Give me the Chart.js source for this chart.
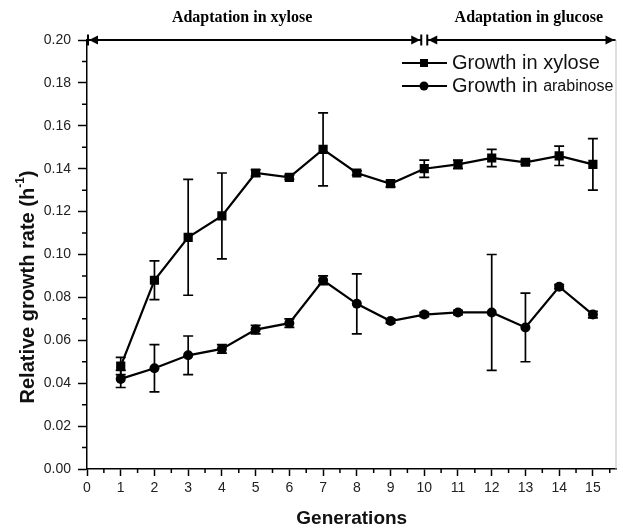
<!DOCTYPE html>
<html>
<head>
<meta charset="utf-8">
<script src="https://cdn.jsdelivr.net/npm/chart.js@4.4.1/dist/chart.umd.min.js"></script>
<style>
  html, body { margin: 0; padding: 0; background: #fff; }
  #wrap { width: 623px; height: 530px; }
</style>
</head>
<body>
<div id="wrap"><canvas id="growthChart" width="623" height="530"></canvas></div>
<script>
// values
const generations = [1, 2, 3, 4, 5, 6, 7, 8, 9, 10, 11, 12, 13, 14, 15];
const xyloseRate = [0.048, 0.088, 0.108, 0.118, 0.138, 0.136, 0.149, 0.138, 0.133, 0.140, 0.142, 0.145, 0.143, 0.146, 0.142];
const xyloseErr  = [0.004, 0.009, 0.027, 0.020, 0.0015, 0.001, 0.017, 0.001, 0.0015, 0.004, 0.002, 0.004, 0.001, 0.0045, 0.012];
const arabinoseRate = [0.042, 0.047, 0.053, 0.056, 0.065, 0.068, 0.088, 0.077, 0.069, 0.072, 0.073, 0.073, 0.066, 0.085, 0.072];
const arabinoseErr  = [0.004, 0.011, 0.009, 0.002, 0.002, 0.002, 0.002, 0.014, 0.001, 0.001, 0.001, 0.027, 0.016, 0.001, 0.0015];

const xTicks = [0, 1, 2, 3, 4, 5, 6, 7, 8, 9, 10, 11, 12, 13, 14, 15];
const yTicks = [0, 0.02, 0.04, 0.06, 0.08, 0.10, 0.12, 0.14, 0.16, 0.18, 0.20];

const phaseLabels = ['Adaptation in xylose', 'Adaptation in glucose'];
const phaseFrom = [0, 10];
const phaseTo = [10, 15.7];
const phaseLabelAt = [4.6, 13.1];

const seriesNames = ['Growth in xylose', 'Growth in arabinose'];

// error bars, phase arrows, minor ticks, legend and y title
const extrasPlugin = {
  id: 'extras',
  afterDatasetsDraw(chart) {
    const { ctx, scales: { x, y } } = chart;
    ctx.save();
    ctx.strokeStyle = '#000';
    ctx.lineWidth = 1.7;
    chart.data.datasets.forEach(ds => {
      ds.data.forEach((p, i) => {
        const e = ds.errors[i];
        const px = x.getPixelForValue(p.x);
        const top = y.getPixelForValue(p.y + e);
        const bot = y.getPixelForValue(p.y - e);
        ctx.beginPath();
        ctx.moveTo(px, top); ctx.lineTo(px, bot);
        ctx.moveTo(px - 5, top); ctx.lineTo(px + 5, top);
        ctx.moveTo(px - 5, bot); ctx.lineTo(px + 5, bot);
        ctx.stroke();
      });
    });
    ctx.restore();
  },
  afterDraw(chart) {
    const { ctx, chartArea, scales: { x, y } } = chart;
    ctx.save();

    // right frame
    ctx.strokeStyle = '#bdbdbd';
    ctx.lineWidth = 1;
    ctx.beginPath();
    ctx.moveTo(chartArea.right - 0.5, chartArea.top);
    ctx.lineTo(chartArea.right - 0.5, chartArea.bottom);
    ctx.stroke();

    // minor ticks
    ctx.strokeStyle = '#000';
    ctx.lineWidth = 1.5;
    ctx.beginPath();
    for (let v = 0.5; v < 15.7; v += 1) {
      const px = x.getPixelForValue(v);
      ctx.moveTo(px, chartArea.bottom); ctx.lineTo(px, chartArea.bottom + 4);
    }
    for (let v = 0.01; v < 0.2; v += 0.02) {
      const py = y.getPixelForValue(v);
      ctx.moveTo(chartArea.left, py); ctx.lineTo(chartArea.left - 5, py);
    }
    ctx.stroke();

    // phase arrows along the top
    const ay = y.getPixelForValue(0.2);
    ctx.fillStyle = '#000';
    ctx.lineWidth = 2;
    phaseLabels.forEach((label, i) => {
      const last = i === phaseLabels.length - 1;
      const x1 = x.getPixelForValue(phaseFrom[i]) + (i > 0 ? 3 : 1);
      const x2 = x.getPixelForValue(phaseTo[i]) - (last ? 1 : 3);
      ctx.beginPath();
      ctx.moveTo(x1, ay); ctx.lineTo(x2, ay);
      ctx.stroke();
      // left head
      ctx.beginPath();
      ctx.moveTo(x1 + 1, ay); ctx.lineTo(x1 + 10, ay - 4.5); ctx.lineTo(x1 + 10, ay + 4.5);
      ctx.closePath(); ctx.fill();
      ctx.beginPath(); ctx.moveTo(x1, ay - 5.5); ctx.lineTo(x1, ay + 5.5); ctx.stroke();
      // right head
      ctx.beginPath();
      ctx.moveTo(x2 - 1, ay); ctx.lineTo(x2 - 10, ay - 4.5); ctx.lineTo(x2 - 10, ay + 4.5);
      ctx.closePath(); ctx.fill();
      if (!last) { ctx.beginPath(); ctx.moveTo(x2, ay - 5.5); ctx.lineTo(x2, ay + 5.5); ctx.stroke(); }

      ctx.font = 'bold 16px "Liberation Serif", "Times New Roman", serif';
      ctx.textAlign = 'center';
      ctx.textBaseline = 'middle';
      ctx.fillText(label, x.getPixelForValue(phaseLabelAt[i]), 18);
    });

    // legend inside the plot
    chart.data.datasets.forEach((ds, i) => {
      const ly = 63 + i * 23;
      ctx.strokeStyle = '#000';
      ctx.lineWidth = 2;
      ctx.beginPath(); ctx.moveTo(402, ly); ctx.lineTo(447, ly); ctx.stroke();
      ctx.fillStyle = '#000';
      ctx.beginPath();
      if (ds.pointStyle === 'rect') ctx.rect(420, ly - 4, 8, 8);
      else ctx.arc(424, ly, 4.5, 0, Math.PI * 2);
      ctx.fill();
      ctx.fillStyle = '#111';
      ctx.textAlign = 'left';
      ctx.textBaseline = 'middle';
      const parts = ds.label.split(' ');
      const tail = parts.pop();
      const head = parts.join(' ') + ' ';
      ctx.font = '20px "Liberation Sans", Arial, sans-serif';
      ctx.fillText(head, 452, ly);
      const w = ctx.measureText(head).width;
      ctx.font = (i === 1 ? '16px' : '20px') + ' "Liberation Sans", Arial, sans-serif';
      ctx.fillText(tail, 452 + w, ly + (i === 1 ? 1 : 0));
    });

    // y axis title with superscript
    ctx.translate(28, 287);
    ctx.rotate(-Math.PI / 2);
    ctx.fillStyle = '#111';
    ctx.textBaseline = 'middle';
    const bigFont = 'bold 20px "Liberation Sans", Arial, sans-serif';
    const smallFont = 'bold 12px "Liberation Sans", Arial, sans-serif';
    ctx.font = bigFont;
    const main = 'Relative growth rate (h';
    const sup = '-1';
    const w1 = ctx.measureText(main).width;
    const w3 = ctx.measureText(')').width;
    ctx.font = smallFont;
    const w2 = ctx.measureText(sup).width;
    const start = -(w1 + w2 + w3) / 2;
    ctx.textAlign = 'left';
    ctx.font = bigFont;
    ctx.fillText(main, start, 0);
    ctx.font = smallFont;
    ctx.fillText(sup, start + w1, -7);
    ctx.font = bigFont;
    ctx.fillText(')', start + w1 + w2, 0);

    ctx.restore();
  }
};

const tickFont = { family: '"Liberation Sans", Arial, sans-serif', size: 14 };

new Chart(document.getElementById('growthChart'), {
  type: 'line',
  data: {
    datasets: [
      {
        label: seriesNames[0],
        data: generations.map((g, i) => ({ x: g, y: xyloseRate[i] })),
        errors: xyloseErr,
        borderColor: '#000', backgroundColor: '#000', borderWidth: 2.2,
        pointStyle: 'rect', pointRadius: 6.5, pointBorderWidth: 0,
        tension: 0
      },
      {
        label: seriesNames[1],
        data: generations.map((g, i) => ({ x: g, y: arabinoseRate[i] })),
        errors: arabinoseErr,
        borderColor: '#000', backgroundColor: '#000', borderWidth: 2.2,
        pointStyle: 'circle', pointRadius: 5, pointBorderWidth: 0,
        tension: 0
      }
    ]
  },
  options: {
    responsive: false,
    animation: false,
    layout: { padding: { top: 40, right: 1, left: 0, bottom: 0 } },
    plugins: { legend: { display: false }, tooltip: { enabled: false } },
    scales: {
      x: {
        type: 'linear', min: 0, max: 15.7,
        afterBuildTicks: s => { s.ticks = xTicks.map(v => ({ value: v })); },
        afterFit: s => { s.height = 61; },
        ticks: { font: tickFont, color: '#222', padding: 4, maxRotation: 0, autoSkip: false, callback: v => String(v) },
        grid: { drawOnChartArea: false, drawTicks: true, tickLength: 7, tickWidth: 1.5, tickColor: '#000' },
        border: { color: '#000', width: 1.5 },
        title: { display: true, text: 'Generations', color: '#111', padding: { top: 0, bottom: 0 },
                 font: { family: '"Liberation Sans", Arial, sans-serif', size: 19, weight: 'bold' } }
      },
      y: {
        min: 0, max: 0.2,
        afterBuildTicks: s => { s.ticks = yTicks.map(v => ({ value: v })); },
        afterFit: s => { s.width = 87; },
        ticks: { font: tickFont, color: '#222', padding: 7, callback: v => v.toFixed(2) },
        grid: { drawOnChartArea: false, drawTicks: true, tickLength: 9, tickWidth: 1.5, tickColor: '#000' },
        border: { color: '#000', width: 1.5 }
      }
    }
  },
  plugins: [extrasPlugin]
});
</script>
</body>
</html>
